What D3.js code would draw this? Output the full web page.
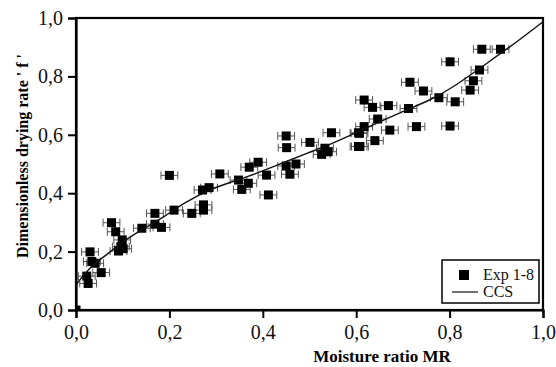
<!DOCTYPE html>
<html>
<head>
<meta charset="utf-8">
<script src="https://cdn.jsdelivr.net/npm/d3@7"></script>
<style>
  body { margin: 0; background: #fff; }
  svg { display: block; }
</style>
</head>
<body>
<div id="chart"></div>
<script>
// Experimental points (moisture ratio MR, dimensionless drying rate f)
const expMR = [0.0, 0.030, 0.034, 0.041, 0.023, 0.026, 0.054, 0.076, 0.085, 0.099, 0.096, 0.091, 0.101,
  0.141, 0.169, 0.169, 0.183, 0.200, 0.210, 0.248, 0.273, 0.273, 0.271, 0.285, 0.308,
  0.348, 0.355, 0.369, 0.371, 0.390, 0.408, 0.412, 0.450, 0.451, 0.450, 0.458, 0.471,
  0.501, 0.547, 0.533, 0.540, 0.526, 0.605, 0.605,
  0.617, 0.635, 0.669, 0.646, 0.617, 0.607, 0.640, 0.608, 0.672,
  0.715, 0.744, 0.712, 0.729, 0.777, 0.812, 0.801, 0.801, 0.844, 0.851, 0.864, 0.869, 0.909];
const expF = [0.0, 0.199, 0.166, 0.160, 0.116, 0.091, 0.128, 0.299, 0.268, 0.240, 0.217, 0.202, 0.210,
  0.280, 0.331, 0.294, 0.283, 0.461, 0.342, 0.331, 0.360, 0.342, 0.411, 0.419, 0.466,
  0.445, 0.413, 0.434, 0.489, 0.506, 0.462, 0.394, 0.596, 0.556, 0.493, 0.465, 0.500,
  0.574, 0.607, 0.554, 0.542, 0.533, 0.607, 0.560,
  0.719, 0.694, 0.700, 0.654, 0.628, 0.605, 0.580, 0.560, 0.616,
  0.780, 0.750, 0.690, 0.628, 0.727, 0.713, 0.850, 0.630, 0.753, 0.785, 0.822, 0.893, 0.893];
const errMR = 0.018;

// CCS model curve
const ccsMR = [0, 0.03, 0.07, 0.10, 0.14, 0.19, 0.23, 0.29, 0.37, 0.44, 0.50, 0.55, 0.62, 0.69, 0.76, 0.81, 0.88, 0.95, 1.0];
const ccsF = [0.086, 0.148, 0.194, 0.234, 0.274, 0.320, 0.366, 0.417, 0.457, 0.502, 0.540, 0.571, 0.622, 0.674, 0.719, 0.765, 0.845, 0.925, 0.987];

const ticks = [0, 0.2, 0.4, 0.6, 0.8, 1.0];
const legendLabels = ["Exp 1-8", "CCS"];

const W = 556, H = 367;
const margin = { top: 18, right: 13, bottom: 57, left: 76 };
const width = W - margin.left - margin.right;
const height = H - margin.top - margin.bottom;
const font = "'Liberation Serif', 'Times New Roman', serif";
const fmt = d3.format(".1f");
const comma = (d) => fmt(d).replace(".", ",");

const svg = d3.select("#chart").append("svg")
  .attr("width", W).attr("height", H);

const g = svg.append("g")
  .attr("transform", `translate(${margin.left}, ${margin.top})`);

const x = d3.scaleLinear().domain([0, 1]).range([0, width]);
const y = d3.scaleLinear().domain([0, 1]).range([height, 0]);

g.append("clipPath").attr("id", "clip")
  .append("rect").attr("width", width).attr("height", height);

const plot = g.append("g").attr("clip-path", "url(#clip)");

const pts = expMR.map((d, i) => ({ mr: d, f: expF[i] }));

// error bars
const eb = plot.selectAll(".eb").data(pts.slice(1)).enter().append("g")
  .attr("stroke", "#555").attr("stroke-width", 1).attr("fill", "none");
eb.append("line")
  .attr("x1", (d) => x(d.mr - errMR)).attr("x2", (d) => x(d.mr + errMR))
  .attr("y1", (d) => y(d.f)).attr("y2", (d) => y(d.f));
eb.append("line")
  .attr("x1", (d) => x(d.mr - errMR)).attr("x2", (d) => x(d.mr - errMR))
  .attr("y1", (d) => y(d.f) - 4).attr("y2", (d) => y(d.f) + 4);
eb.append("line")
  .attr("x1", (d) => x(d.mr + errMR)).attr("x2", (d) => x(d.mr + errMR))
  .attr("y1", (d) => y(d.f) - 4).attr("y2", (d) => y(d.f) + 4);

// squares
plot.selectAll(".pt").data(pts).enter().append("rect")
  .attr("x", (d) => x(d.mr) - 4.5).attr("y", (d) => y(d.f) - 4.5)
  .attr("width", 9).attr("height", 9).attr("fill", "#000");

// CCS line
const line = d3.line().curve(d3.curveBasis)
  .x((d, i) => x(ccsMR[i])).y((d) => y(d));
plot.append("path").datum(ccsF)
  .attr("fill", "none").attr("stroke", "#111").attr("stroke-width", 1.4)
  .attr("d", line);

// frame
g.append("rect").attr("width", width).attr("height", height)
  .attr("fill", "none").attr("stroke", "#000").attr("stroke-width", 2.2);

// axes
const xAxis = g.append("g").attr("transform", `translate(0, ${height})`)
  .call(d3.axisBottom(x).tickValues(ticks).tickFormat(comma).tickSize(8).tickPadding(7));
const yAxis = g.append("g")
  .call(d3.axisLeft(y).tickValues(ticks).tickFormat(comma).tickSize(8).tickPadding(5));
[xAxis, yAxis].forEach((a) => {
  a.select(".domain").attr("stroke-width", 2.2);
  a.selectAll(".tick line").attr("stroke-width", 2);
  a.selectAll("text").attr("font-family", font).attr("font-size", 20).attr("fill", "#111");
});

// axis titles
svg.append("text")
  .attr("x", 382).attr("y", H - 5)
  .attr("text-anchor", "middle").attr("font-family", font)
  .attr("font-weight", "bold").attr("font-size", 17)
  .text("Moisture ratio MR");

svg.append("text")
  .attr("transform", `translate(28, 156) rotate(-90)`)
  .attr("text-anchor", "middle").attr("font-family", font)
  .attr("font-weight", "bold").attr("font-size", 16)
  .text("Dimensionless drying rate ' f '");

// legend
const lg = g.append("g").attr("transform", `translate(${width - 101}, ${height - 50})`);
lg.append("rect").attr("width", 97).attr("height", 43)
  .attr("fill", "#fff").attr("stroke", "#000").attr("stroke-width", 1.5);
lg.append("rect").attr("x", 17).attr("y", 10).attr("width", 10).attr("height", 10).attr("fill", "#000");
lg.append("line").attr("x1", 10).attr("x2", 36).attr("y1", 32).attr("y2", 32)
  .attr("stroke", "#111").attr("stroke-width", 1.2);
lg.selectAll(".lt").data(legendLabels).enter().append("text")
  .attr("x", 41).attr("y", (d, i) => 20 + i * 17)
  .attr("font-family", font).attr("font-size", 16).attr("fill", "#111")
  .text((d) => d);
</script>
</body>
</html>
